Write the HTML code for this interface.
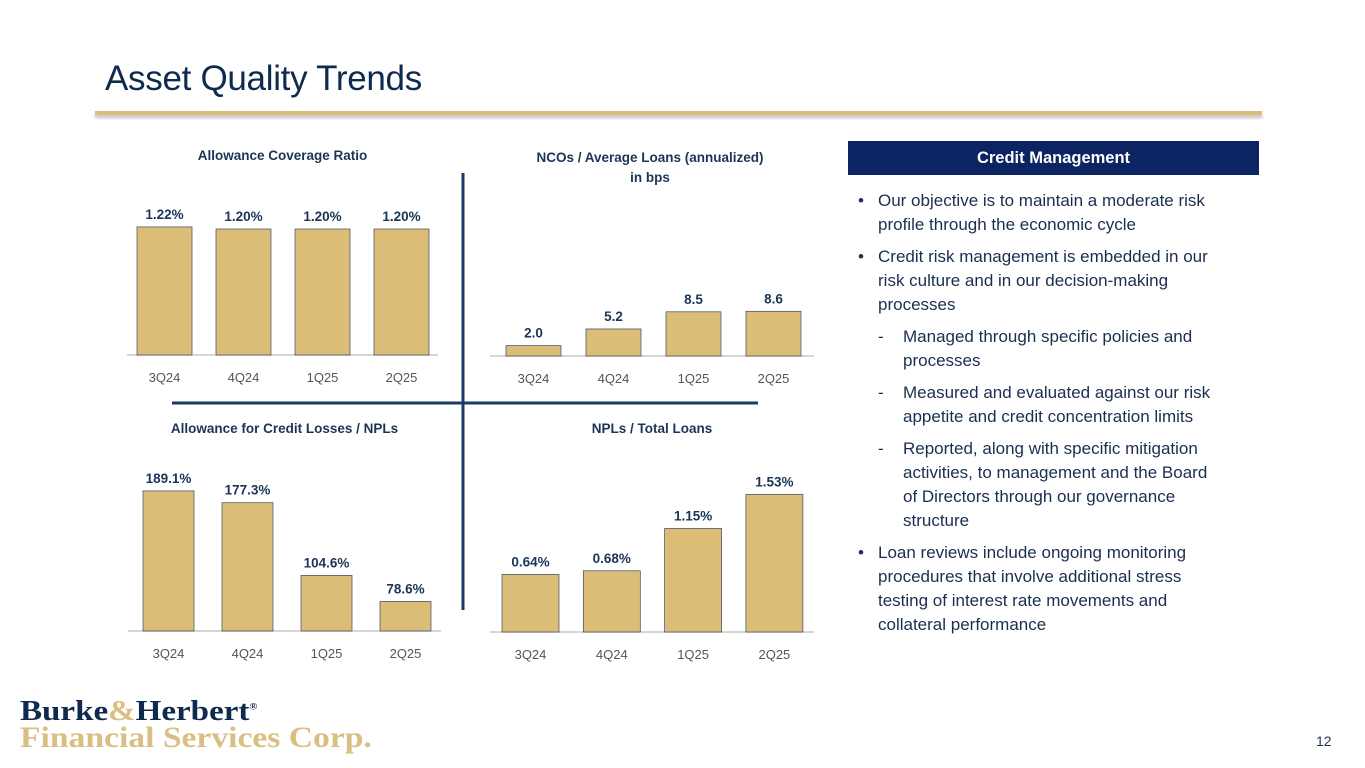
<!DOCTYPE html>
<html><head><meta charset="utf-8">
<style>
body{margin:0;width:1365px;height:768px;background:#fff;position:relative;overflow:hidden;font-family:"Liberation Sans",sans-serif;}
.abs{position:absolute;}
#title{left:105px;top:59px;font-size:35px;color:#0e2a4e;letter-spacing:-0.3px;}
#rule{left:95px;top:111px;width:1167px;height:4px;background:#dcbd78;box-shadow:0 3px 3px rgba(0,0,0,0.25);}
.ctitle{font-size:13.5px;font-weight:bold;color:#1c3557;text-align:center;}
#hdr{left:848px;top:141px;width:411px;height:34px;background:#0c2461;color:#fff;font-weight:bold;font-size:16.5px;text-align:center;line-height:34px;}
.txt{font-size:17px;color:#1a2f4f;line-height:24px;}
.line{position:absolute;white-space:nowrap;}
#logo1{left:20px;top:696px;font-family:"Liberation Serif",serif;font-weight:bold;font-size:28px;color:#0e2a4e;transform-origin:0 0;transform:scaleX(1.18);}
#logo2{left:20px;top:721px;font-family:"Liberation Serif",serif;font-weight:bold;font-size:30px;color:#d9bf82;transform-origin:0 0;transform:scaleX(1.12);}
#pg{left:1316px;top:733px;font-size:14px;color:#1c3557;}
</style></head><body>
<div class="abs" id="title">Asset Quality Trends</div>
<div class="abs" id="rule"></div>

<div class="abs ctitle" style="left:127px;top:148px;width:311px">Allowance Coverage Ratio</div>
<div class="abs ctitle" style="left:470px;top:148px;width:360px;line-height:20px">NCOs / Average Loans (annualized)<br>in bps</div>
<div class="abs ctitle" style="left:128px;top:421px;width:313px">Allowance for Credit Losses / NPLs</div>
<div class="abs ctitle" style="left:490px;top:421px;width:324px">NPLs / Total Loans</div>

<svg class="abs" style="left:0;top:0" width="1365" height="768" id="charts">
<line x1="463" y1="173" x2="463" y2="610" stroke="#1c3a66" stroke-width="3"/>
<line x1="172" y1="403" x2="758" y2="403" stroke="#1c3a66" stroke-width="3"/>
</svg>

<div class="abs" id="hdr">Credit Management</div>
<div class="abs txt" style="left:0;top:0">
<div class="line" style="left:858px;top:189px">•</div>
<div class="line" style="left:878px;top:189px">Our objective is to maintain a moderate risk</div>
<div class="line" style="left:878px;top:213px">profile through the economic cycle</div>
<div class="line" style="left:858px;top:245px">•</div>
<div class="line" style="left:878px;top:245px">Credit risk management is embedded in our</div>
<div class="line" style="left:878px;top:269px">risk culture and in our decision-making</div>
<div class="line" style="left:878px;top:293px">processes</div>
<div class="line" style="left:878px;top:325px">-</div>
<div class="line" style="left:903px;top:325px">Managed through specific policies and</div>
<div class="line" style="left:903px;top:349px">processes</div>
<div class="line" style="left:878px;top:381px">-</div>
<div class="line" style="left:903px;top:381px">Measured and evaluated against our risk</div>
<div class="line" style="left:903px;top:405px">appetite and credit concentration limits</div>
<div class="line" style="left:878px;top:437px">-</div>
<div class="line" style="left:903px;top:437px">Reported, along with specific mitigation</div>
<div class="line" style="left:903px;top:461px">activities, to management and the Board</div>
<div class="line" style="left:903px;top:485px">of Directors through our governance</div>
<div class="line" style="left:903px;top:509px">structure</div>
<div class="line" style="left:858px;top:541px">•</div>
<div class="line" style="left:878px;top:541px">Loan reviews include ongoing monitoring</div>
<div class="line" style="left:878px;top:565px">procedures that involve additional stress</div>
<div class="line" style="left:878px;top:589px">testing of interest rate movements and</div>
<div class="line" style="left:878px;top:613px">collateral performance</div>
</div>

<div class="abs" id="logo1">Burke<span style="color:#d9bf82">&amp;</span>Herbert<sup style="font-size:9px">®</sup></div>
<div class="abs" id="logo2">Financial Services Corp.</div>
<div class="abs" id="pg">12</div>

<script>
const quarters = ["3Q24","4Q24","1Q25","2Q25"];
const coverageValues = [1.22,1.20,1.20,1.20];
const coverageLabels = ["1.22%","1.20%","1.20%","1.20%"];
const ncoValues = [2.0,5.2,8.5,8.6];
const ncoLabels = ["2.0","5.2","8.5","8.6"];
const aclNplValues = [189.1,177.3,104.6,78.6];
const aclNplLabels = ["189.1%","177.3%","104.6%","78.6%"];
const nplLoanValues = [0.64,0.68,1.15,1.53];
const nplLoanLabels = ["0.64%","0.68%","1.15%","1.53%"];

const NS="http://www.w3.org/2000/svg";
const svg=document.getElementById('charts');
function mk(tag,attrs){const e=document.createElementNS(NS,tag);for(const k in attrs)e.setAttribute(k,attrs[k]);svg.appendChild(e);return e;}

function drawChart(key,vals,labels,cfg){
  const ax=mk('line',{x1:cfg.x0,x2:cfg.x1,y1:cfg.base,y2:cfg.base,stroke:'#c8c8c8','stroke-width':1.5});
  
  
  const yScale=v=>cfg.base-(v-cfg.vmin)*cfg.scale;
  vals.forEach((v,i)=>{
    const x=cfg.first+i*cfg.step;
    const y=yScale(v);
    const r=mk('rect',{x:x,y:y,width:cfg.w,height:cfg.base-y,fill:'#dcbd78',stroke:'#3b4860','stroke-width':0.7});
    
    
    const t=mk('text',{x:x+cfg.w/2,y:y-8,'text-anchor':'middle','font-size':13.5,'font-weight':'bold',fill:'#1c3557','font-family':'Liberation Sans, sans-serif'});
    t.textContent=labels[i];
    
    
    const c=mk('text',{x:x+cfg.w/2,y:cfg.base+27,'text-anchor':'middle','font-size':13,fill:'#555','font-family':'Liberation Sans, sans-serif'});
    c.textContent=quarters[i];
    
    
  });
}
drawChart('coverage',coverageValues,coverageLabels,{x0:127,x1:438,base:355,first:137,step:79,w:55,vmin:0,scale:105});
drawChart('nco',ncoValues,ncoLabels,{x0:490,x1:814,base:356,first:506,step:80,w:55,vmin:0,scale:5.2});
drawChart('acl-npl',aclNplValues,aclNplLabels,{x0:128,x1:441,base:631,first:143,step:79,w:51,vmin:49,scale:1.0});
drawChart('npl-loans',nplLoanValues,nplLoanLabels,{x0:490,x1:814,base:632,first:502,step:81.3,w:57,vmin:0,scale:90});
</script>
</body></html>
